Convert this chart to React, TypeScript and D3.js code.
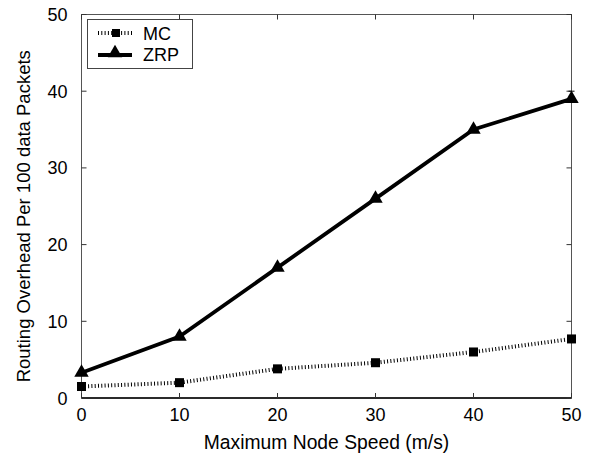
import React from "react";
import * as d3 from "d3";

const speeds = [0, 10, 20, 30, 40, 50];
const mcValues = [1.5, 2.0, 3.8, 4.6, 6.0, 7.7];
const zrpValues = [3.3, 8.0, 17.0, 26.0, 35.0, 39.0];
const xTicks = [0, 10, 20, 30, 40, 50];
const yTicks = [0, 10, 20, 30, 40, 50];

const W = 595, H = 457;
const L = 81.5, R = 571.5, T = 14.5, B = 398;
const font = "Liberation Sans, Arial, Helvetica, sans-serif";

export default function App() {
  const x = d3.scaleLinear().domain([0, 50]).range([L, R]);
  const y = d3.scaleLinear().domain([0, 50]).range([B, T]);
  const line = d3.line<number>().x((_, i) => x(speeds[i])).y((d) => y(d));
  const tri = d3.symbol().type(d3.symbolTriangle).size(90)();
  return (
    <svg width={W} height={H} style={{ display: "block", position: "absolute", left: 0, top: 0 }}>
      <rect x={0} y={0} width={W} height={H} fill="white" />
      {/* frame */}
      <rect x={L} y={T} width={R - L} height={B - T} fill="none" stroke="#555" strokeWidth={1} />
      <line x1={L} x2={R} y1={B} y2={B} stroke="#000" strokeWidth={1.3} />
      {xTicks.map((t) => (
        <g key={"x" + t}>
          <line x1={x(t)} x2={x(t)} y1={B} y2={B - 5} stroke="#333" />
          <line x1={x(t)} x2={x(t)} y1={T} y2={T + 5} stroke="#333" />
          <text x={x(t)} y={B + 23} textAnchor="middle" fontFamily={font} fontSize={18}>{t}</text>
        </g>
      ))}
      {yTicks.map((t) => (
        <g key={"y" + t}>
          <line x1={L} x2={L + 5} y1={y(t)} y2={y(t)} stroke="#333" />
          <line x1={R} x2={R - 5} y1={y(t)} y2={y(t)} stroke="#333" />
          <text x={L - 14} y={y(t) + 6.5} textAnchor="end" fontFamily={font} fontSize={18}>{t}</text>
        </g>
      ))}
      <text x={(L + R) / 2} y={449} textAnchor="middle" fontFamily={font} fontSize={19.3}>Maximum Node Speed (m/s)</text>
      <text transform={`translate(30,${(T + B) / 2 + 10}) rotate(-90)`} textAnchor="middle" fontFamily={font} fontSize={18.5}>Routing Overhead Per 100 data Packets</text>
      {/* MC */}
      <path d={line(mcValues) || ""} fill="none" stroke="#000" strokeWidth={4} strokeDasharray="1 2.3" />
      {mcValues.map((v, i) => (
        <rect key={"m" + i} x={x(speeds[i]) - 4.5} y={y(v) - 4.5} width={9} height={9} fill="#000" />
      ))}
      {/* ZRP */}
      <path d={line(zrpValues) || ""} fill="none" stroke="#000" strokeWidth={3.8} />
      <line x1={x(50) - 3} x2={x(50) + 3} y1={y(40)} y2={y(40)} stroke="#000" />
      <line x1={x(50)} x2={x(50)} y1={y(40)} y2={y(39)} stroke="#000" />
      {zrpValues.map((v, i) => (
        <path key={"z" + i} d={tri || ""} transform={`translate(${x(speeds[i])},${y(v)})`} fill="#000" />
      ))}
      {/* legend */}
      <rect x={87.5} y={19.5} width={105} height={49} fill="white" stroke="#444" strokeWidth={1} />
      <line x1={98} x2={132} y1={33} y2={33} stroke="#000" strokeWidth={4} strokeDasharray="1 2.3" />
      <rect x={112} y={29} width={8} height={8} fill="#000" />
      <text x={143} y={40} fontFamily={font} fontSize={18}>MC</text>
      <line x1={98} x2={132} y1={55} y2={55} stroke="#000" strokeWidth={3.8} />
      <path d={tri || ""} transform="translate(115,53)" fill="#000" />
      <text x={143} y={61} fontFamily={font} fontSize={18}>ZRP</text>
    </svg>
  );
}
